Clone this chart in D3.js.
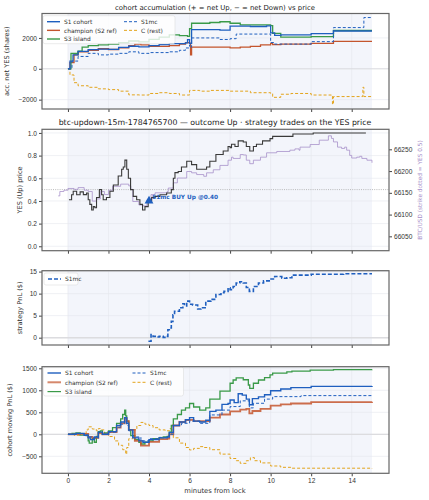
<!DOCTYPE html>
<html>
<head>
<meta charset="utf-8">
<script src="https://cdn.jsdelivr.net/npm/d3@7"></script>
<style>
  body { margin: 0; background: #fff; }
  svg { font-family: "DejaVu Sans", sans-serif; }
  .tick text { fill: #333; }
</style>
</head>
<body>
<div id="chart"></div>
<script>
// ---- data: [minutes from lock, value] ----
const minuteTicks = [0, 2, 4, 6, 8, 10, 12, 14];

// panel 1: accumulated net YES shares
const accS1 = [[0,0],[0.1,500],[0.25,900],[0.5,1130],[1,1240],[1.5,1280],[2,1260],[2.5,1390],[3,1460],[3.5,1420],[4,1500],[4.5,1560],[5,1630],[5.8,1680],[5.9,1890],[6.0,1650],[6.1,2540],[7.5,2500],[8,2760],[9,2740],[9.8,2780],[10,2330],[10.2,2170],[10.5,2200],[12,2280],[13.1,2450],[15,2450]];
const accChamp = [[0,0],[0.1,400],[0.3,900],[0.5,1100],[1,1200],[1.5,1300],[2,1250],[2.5,1350],[3,1500],[3.3,1600],[3.6,1550],[4,1450],[5,1500],[5.5,1600],[5.8,1700],[6.0,1650],[6.05,900],[6.1,1400],[8,1350],[8.5,1400],[9,1450],[9.5,1550],[10,1650],[10.1,1560],[10.5,1600],[12,1650],[13.1,1780],[15,1780]];
const accS3 = [[0,0],[0.15,1000],[0.5,1150],[0.7,1400],[1,1500],[1.5,1550],[2,1600],[2.5,1700],[3,1800],[3.5,1750],[4,1900],[4.5,2050],[5,2200],[5.5,2150],[5.9,2100],[6.0,2600],[6.1,2950],[7,3000],[7.5,3050],[8,2950],[8.5,2850],[9.5,2850],[10,2800],[10.1,2300],[10.5,2050],[12,2080],[13.1,2480],[15,2480]];
const accS1mc = [[0,0],[0.2,500],[0.5,800],[1,1000],[1.5,900],[2,950],[2.5,1000],[3,1100],[3.5,1000],[4,1050],[5,1100],[5.5,1200],[5.8,1350],[6.0,1550],[6.05,1400],[6.1,2000],[7.5,1900],[8,1950],[8.3,2250],[9.8,2250],[10,1700],[10.2,1600],[12,1760],[13.1,2670],[14.6,3320],[15,3320]];
const accRest = [[0,0],[0.1,-400],[0.3,-900],[0.5,-1100],[1,-1200],[1.5,-1300],[2,-1350],[2.5,-1450],[3,-1690],[3.5,-1700],[4,-1600],[4.5,-1550],[5,-1600],[5.5,-1700],[6,-1400],[6.5,-1450],[7,-1400],[8,-1450],[9,-1550],[10,-1600],[10.1,-1850],[10.5,-1650],[11,-1600],[12,-1700],[13,-1750],[13.05,-2300],[13.1,-1800],[14.55,-1200],[14.6,-1800],[15,-1800]];

// panel 2: YES price and BTC
const yesPrice = [[0.05,0.41],[0.18,0.455],[0.26,0.485],[0.43,0.455],[0.6,0.48],[0.76,0.456],[0.92,0.47],[1.0,0.41],[1.08,0.37],[1.17,0.32],[1.25,0.35],[1.33,0.34],[1.41,0.43],[1.55,0.5],[1.66,0.455],[1.74,0.41],[1.9,0.43],[2.07,0.485],[2.24,0.54],[2.48,0.62],[2.65,0.68],[2.73,0.7],[2.81,0.76],[2.9,0.68],[2.98,0.6],[3.09,0.5],[3.22,0.44],[3.39,0.41],[3.55,0.37],[3.68,0.32],[3.8,0.35],[3.96,0.4],[4.13,0.43],[4.29,0.44],[4.54,0.455],[4.87,0.47],[5.1,0.5],[5.2,0.6],[5.28,0.65],[5.44,0.66],[5.6,0.7],[5.86,0.75],[6.1,0.72],[6.35,0.68],[6.68,0.68],[6.84,0.7],[7.0,0.75],[7.3,0.81],[7.66,0.84],[7.9,0.88],[8.0,0.87],[8.07,0.9],[8.24,0.88],[8.4,0.93],[8.65,0.92],[8.8,0.88],[8.97,0.84],[9.15,0.88],[9.3,0.9],[9.6,0.93],[9.97,0.95],[10.1,0.97],[10.95,0.97],[11.1,0.99],[12.1,1.0],[14.7,1.0]];
const btcUsd = [[-0.48,66143],[-0.4,66153],[-0.2,66156],[0,66160],[0.3,66158],[0.5,66162],[0.8,66156],[1.0,66153],[1.2,66131],[1.4,66136],[1.6,66153],[1.8,66146],[2.0,66156],[2.2,66165],[2.6,66170],[3.0,66166],[3.1,66158],[3.2,66130],[3.5,66122],[3.7,66120],[3.9,66134],[4.1,66146],[4.3,66150],[4.9,66153],[4.95,66161],[5.2,66173],[5.4,66184],[5.7,66184],[5.86,66199],[6.1,66196],[6.35,66192],[6.7,66188],[6.84,66196],[7.17,66203],[7.5,66213],[7.9,66225],[8.07,66232],[8.15,66229],[8.5,66238],[8.65,66237],[8.8,66225],[8.97,66217],[9.15,66225],[9.5,66232],[9.8,66242],[10.3,66245],[10.95,66248],[11.2,66251],[11.4,66248],[11.45,66255],[11.95,66261],[12.4,66271],[12.85,66281],[13.0,66275],[13.1,66267],[13.3,66255],[13.5,66252],[13.65,66255],[13.75,66248],[13.9,66236],[14.0,66230],[14.25,66232],[14.4,66234],[14.5,66229],[14.75,66225],[15.0,66219]];
const strikePrice = 0.5;
const buyTrade = {t: 4.0, price: 0.40, label: "S1mc BUY Up @0.40"};

// panel 3: strategy PnL
const pnlS1mc = [[3.97,-0.8],[4.05,-0.8],[4.1,0.7],[4.2,0.3],[4.35,0.15],[4.5,0.3],[4.7,0.07],[4.85,0.3],[4.93,1.8],[5.0,2.2],[5.1,3.7],[5.18,5.2],[5.26,6.0],[5.5,6.8],[5.67,7.7],[5.75,7.2],[5.86,8.3],[6.0,7.6],[6.15,7.4],[6.4,6.5],[6.56,6.8],[6.77,7.0],[6.8,8.3],[7.05,8.7],[7.3,9.8],[7.55,10.2],[7.7,10.5],[7.9,11.3],[8.0,10.9],[8.15,11.6],[8.3,12.4],[8.48,12.7],[8.65,12.4],[8.8,11.4],[8.95,10.5],[9.15,11.6],[9.4,12.4],[9.65,12.9],[9.97,13.3],[10.2,13.9],[10.55,13.5],[10.8,13.6],[11.05,14.2],[12.0,14.4],[13.6,14.5],[15.0,14.5]];

// panel 4: cohort moving PnL
const movS1 = [[0,0],[0.4,20],[0.8,-20],[1.0,-80],[1.1,-120],[1.3,-60],[1.5,50],[1.7,0],[2.0,60],[2.4,200],[2.6,280],[2.8,380],[2.9,250],[3.0,100],[3.2,-80],[3.5,-150],[3.7,-180],[4.0,-120],[4.5,-80],[4.9,-60],[5.0,40],[5.2,200],[5.5,280],[5.8,330],[6.0,380],[6.2,300],[6.5,280],[6.8,320],[7.0,520],[7.3,550],[7.6,680],[7.9,700],[8.0,780],[8.2,720],[8.4,920],[8.6,890],[8.8,800],[8.95,670],[9.1,810],[9.4,850],[9.7,900],[10.0,990],[10.5,1030],[11.0,1060],[12.0,1090],[15.0,1100]];
const movChamp = [[0,0],[0.5,10],[1.0,-60],[1.2,-80],[1.5,30],[1.7,0],[2.0,50],[2.4,150],[2.6,250],[2.8,360],[2.9,300],[3.0,100],[3.3,-150],[3.6,-255],[4.0,-170],[4.5,-110],[4.9,-100],[5.0,0],[5.2,200],[5.5,280],[5.8,320],[6.0,330],[6.2,300],[6.5,300],[7.0,380],[7.5,450],[8.0,520],[8.5,560],[8.8,580],[8.95,475],[9.1,530],[9.5,580],[10.0,650],[10.5,680],[11.0,700],[12.0,730],[15.0,742]];
const movS3 = [[0,0],[0.2,20],[0.4,30],[0.6,-20],[0.9,-30],[1.0,-150],[1.05,-200],[1.2,-100],[1.3,-180],[1.4,-50],[1.5,60],[1.6,80],[1.7,0],[1.8,30],[2.0,80],[2.2,150],[2.4,250],[2.6,350],[2.7,450],[2.8,550],[2.85,420],[2.9,300],[3.0,100],[3.1,-30],[3.3,-120],[3.5,-180],[3.6,-220],[3.8,-180],[4.0,-150],[4.2,-100],[4.5,-80],[4.7,-60],[4.9,-50],[5.0,50],[5.1,200],[5.2,350],[5.4,450],[5.6,550],[5.8,600],[6.0,700],[6.2,620],[6.5,550],[6.8,600],[7.0,800],[7.5,980],[8.0,1160],[8.15,1234],[8.3,1280],[8.65,1240],[8.9,1120],[8.97,1045],[9.15,1160],[9.4,1234],[9.7,1290],[9.97,1350],[10.1,1390],[10.8,1420],[11.05,1435],[11.95,1458],[13.1,1470],[15.0,1473]];
const movS1mc = [[0,0],[0.4,15],[0.8,-15],[1.0,-60],[1.2,-90],[1.5,40],[1.7,0],[2.0,50],[2.4,160],[2.6,230],[2.8,300],[2.9,200],[3.0,80],[3.2,-60],[3.6,-150],[4.0,-100],[4.5,-70],[4.9,-50],[5.0,0],[5.2,200],[5.6,250],[6.0,300],[6.5,250],[7.0,440],[7.6,550],[8.0,630],[8.5,760],[8.95,600],[9.15,705],[9.7,800],[10.1,856],[11.5,879],[15.0,893]];
const movRest = [[0,0],[0.3,-20],[0.6,20],[0.9,100],[1.0,170],[1.2,120],[1.4,80],[1.5,130],[1.6,100],[1.8,20],[2.0,-50],[2.3,-150],[2.5,-250],[2.7,-350],[2.85,-450],[2.9,-300],[3.0,-100],[3.2,100],[3.4,200],[3.6,270],[3.8,230],[4.0,200],[4.2,150],[4.5,100],[4.8,80],[5.0,130],[5.1,0],[5.2,-80],[5.5,-200],[5.8,-300],[6.0,-355],[6.2,-320],[6.5,-280],[6.7,-300],[7.0,-350],[7.5,-450],[8.0,-550],[8.3,-600],[8.5,-660],[8.8,-600],[9.0,-530],[9.2,-600],[9.5,-650],[10.0,-720],[10.5,-750],[11.0,-770],[12.0,-770],[15.0,-780]];

const colS1 = "#1f5fbf", colChamp = "#c4552d", colS3 = "#3a9a48", colRest = "#e3a41c", colBtc = "#a48cc8";

// ---- layout ----
const W = 429, H = 500;
const svg = d3.select("#chart").append("svg").attr("width", W).attr("height", H);

const x = d3.scaleLinear().domain([-1.28, 15.84]).range([42, 389]);

function panel(top, bottom, yDomain, yTicks, yLabel, yFmt) {
  const y = d3.scaleLinear().domain(yDomain).range([bottom, top]);
  const g = svg.append("g");
  g.append("rect").attr("x", 42).attr("y", top).attr("width", 347).attr("height", bottom - top).attr("fill", "#fff");
  // session span shading
  g.append("rect").attr("x", x(0)).attr("y", top).attr("width", x(15) - x(0)).attr("height", bottom - top).attr("fill", "#f3f5fb");
  // grid
  g.selectAll(".gx").data(minuteTicks).join("line")
    .attr("x1", d => x(d)).attr("x2", d => x(d)).attr("y1", top).attr("y2", bottom)
    .attr("stroke", "#e4e6ec").attr("stroke-width", 0.6);
  g.selectAll(".gy").data(yTicks).join("line")
    .attr("x1", 42).attr("x2", 389).attr("y1", d => y(d)).attr("y2", d => y(d))
    .attr("stroke", "#e4e6ec").attr("stroke-width", 0.6);
  const yAxis = g.append("g").attr("transform", "translate(42,0)")
    .call(d3.axisLeft(y).tickValues(yTicks).tickSize(3).tickPadding(2).tickFormat(yFmt || d3.format("d")));
  yAxis.select(".domain").remove();
  yAxis.selectAll("line").attr("stroke", "#444");
  yAxis.selectAll("text").style("font-size", "6.6px");
  const xAxis = g.append("g").attr("transform", `translate(0,${bottom})`)
    .call(d3.axisBottom(x).tickValues(minuteTicks).tickSize(3).tickFormat(""));
  xAxis.select(".domain").remove();
  xAxis.selectAll("line").attr("stroke", "#444");
  svg.append("text").attr("transform", `translate(${yLabel.x},${(top + bottom) / 2}) rotate(-90)`)
    .attr("text-anchor", "middle").style("font-size", "6.6px").attr("fill", "#333").text(yLabel.text);
  return {g, y, top, bottom, xAxis};
}

function frame(p) {
  svg.append("rect").attr("x", 42).attr("y", p.top).attr("width", 347).attr("height", p.bottom - p.top)
    .attr("fill", "none").attr("stroke", "#666").attr("stroke-width", 1.2);
}

function stepLine(p, data, color, width, dash, opacity) {
  const line = d3.line().x(d => x(d[0])).y(d => p.y(d[1])).curve(d3.curveStepAfter);
  p.g.append("path").datum(data).attr("d", line).attr("fill", "none")
    .attr("stroke", color).attr("stroke-width", width).attr("stroke-dasharray", dash || null)
    .attr("stroke-opacity", opacity || 1);
}

function legend(p, items, x0, y0, w, h, colW, rowH, lineLen) {
  const lg = p.g.append("g");
  lg.append("rect").attr("x", x0).attr("y", y0).attr("width", w).attr("height", h).attr("rx", 2)
    .attr("fill", "#fff").attr("fill-opacity", 0.8).attr("stroke", "#ddd").attr("stroke-width", 0.6);
  items.forEach((it, i) => {
    const cx = x0 + 4 + it.col * colW, cy = y0 + 6 + it.row * rowH;
    lg.append("line").attr("x1", cx).attr("x2", cx + lineLen).attr("y1", cy).attr("y2", cy)
      .attr("stroke", it.color).attr("stroke-width", it.w).attr("stroke-dasharray", it.dash || null)
      .attr("stroke-opacity", it.op || 1);
    lg.append("text").attr("x", cx + lineLen + 4).attr("y", cy + 2.2).style("font-size", "5.9px").attr("fill", "#333").text(it.name);
  });
}

// ---- panel 1 ----
const p1 = panel(13.5, 109, [-2606, 3583], [-2000, 0, 2000], {x: 9, text: "acc. net YES (shares)"});
p1.g.append("line").attr("x1", 42).attr("x2", 389).attr("y1", p1.y(0)).attr("y2", p1.y(0)).attr("stroke", "#d8d8dc").attr("stroke-width", 0.8);
stepLine(p1, accRest, colRest, 1, "3,2");
stepLine(p1, accChamp, colChamp, 1.3);
stepLine(p1, accS3, colS3, 1.3);
stepLine(p1, accS1, colS1, 1.3);
stepLine(p1, accS1mc, colS1, 1, "3,2");
legend(p1, [
  {name: "S1 cohort", color: colS1, w: 1.4, col: 0, row: 0},
  {name: "champion (S2 ref)", color: colChamp, w: 1.4, col: 0, row: 1},
  {name: "S3 island", color: colS3, w: 1.4, col: 0, row: 2},
  {name: "S1mc", color: colS1, w: 1, dash: "3,2", col: 1, row: 0},
  {name: "C (rest)", color: colRest, w: 1, dash: "3,2", col: 1, row: 1}
], 43, 15.7, 132, 28, 77, 8.65, 13);
frame(p1);
svg.append("text").attr("x", 215).attr("y", 10).attr("text-anchor", "middle").style("font-size", "6.9px").attr("fill", "#222")
  .text("cohort accumulation (+ = net Up, \u2212 = net Down) vs price");

// ---- panel 2 ----
const p2 = panel(129.3, 250.7, [-0.039, 1.032], [0, 0.2, 0.4, 0.6, 0.8, 1.0], {x: 22, text: "YES (Up) price"}, d3.format(".1f"));
const yBtc = d3.scaleLinear().domain([66017, 66296]).range([250.7, 129.3]);
const rAxis = p2.g.append("g").attr("transform", "translate(389,0)")
  .call(d3.axisRight(yBtc).tickValues([66050, 66100, 66150, 66200, 66250]).tickSize(3).tickPadding(2).tickFormat(d3.format("d")));
rAxis.select(".domain").remove();
rAxis.selectAll("line").attr("stroke", "#444");
rAxis.selectAll("text").style("font-size", "6.6px").attr("fill", colBtc);
svg.append("text").attr("transform", `translate(422,${(129.3 + 250.7) / 2}) rotate(-90)`).attr("text-anchor", "middle")
  .style("font-size", "5.8px").attr("fill", colBtc).text("BTC/USD (strike dotted = YES 0.5)");
p2.g.append("line").attr("x1", 42).attr("x2", 389).attr("y1", p2.y(strikePrice)).attr("y2", p2.y(strikePrice))
  .attr("stroke", "#aaa").attr("stroke-width", 0.8).attr("stroke-dasharray", "1,1.2");
const btcLine = d3.line().x(d => x(d[0])).y(d => yBtc(d[1])).curve(d3.curveStepAfter);
p2.g.append("path").datum(btcUsd).attr("d", btcLine).attr("fill", "none").attr("stroke", colBtc).attr("stroke-width", 0.9).attr("stroke-opacity", 0.85);
stepLine(p2, yesPrice, "#3a3a3a", 1.1);
p2.g.append("path").attr("d", d3.symbol(d3.symbolTriangle, 34)())
  .attr("transform", `translate(${x(buyTrade.t)},${p2.y(buyTrade.price)})`).attr("fill", colS1);
p2.g.append("text").attr("x", x(buyTrade.t) + 3).attr("y", p2.y(buyTrade.price) - 1.5).style("font-size", "5.8px")
  .style("font-weight", "bold").attr("fill", colS1).text(buyTrade.label);
frame(p2);
svg.append("text").attr("x", 215).attr("y", 124.5).attr("text-anchor", "middle").style("font-size", "7.8px").attr("fill", "#222")
  .text("btc-updown-15m-1784765700 \u2014 outcome Up \u00b7 strategy trades on the YES price");

// ---- panel 3 ----
const p3 = panel(270.7, 345, [-1.66, 15.2], [0, 5, 10, 15], {x: 22, text: "strategy PnL ($)"});
p3.g.append("line").attr("x1", 42).attr("x2", 389).attr("y1", p3.y(0)).attr("y2", p3.y(0)).attr("stroke", "#dcdcdf").attr("stroke-width", 1.6);
stepLine(p3, pnlS1mc, colS1, 1.6, "4,2");
legend(p3, [{name: "S1mc", color: colS1, w: 1.6, dash: "4,2", col: 0, row: 0}], 44, 273, 34, 12, 0, 0, 13);
frame(p3);

// ---- panel 4 ----
const p4 = panel(366.7, 473.3, [-886, 1536], [-500, 0, 500, 1000, 1500], {x: 12, text: "cohort moving PnL ($)"});
p4.g.append("line").attr("x1", 42).attr("x2", 389).attr("y1", p4.y(0)).attr("y2", p4.y(0)).attr("stroke", "#dcdcdf").attr("stroke-width", 1.2);
stepLine(p4, movRest, colRest, 1, "3,2");
stepLine(p4, movS3, colS3, 1.3);
stepLine(p4, movChamp, colChamp, 1.8, null, 0.85);
stepLine(p4, movS1, colS1, 1.4);
stepLine(p4, movS1mc, colS1, 1, "3,2");
legend(p4, [
  {name: "S1 cohort", color: colS1, w: 1.4, col: 0, row: 0},
  {name: "champion (S2 ref)", color: colChamp, w: 2, op: 0.7, col: 0, row: 1},
  {name: "S3 island", color: colS3, w: 1.2, col: 0, row: 2},
  {name: "S1mc", color: colS1, w: 1, dash: "3,2", col: 1, row: 0},
  {name: "C (rest)", color: colRest, w: 1, dash: "3,2", col: 1, row: 1}
], 43.5, 367, 140, 29, 85, 9.3, 13.5);
frame(p4);
p4.xAxis.call(d3.axisBottom(x).tickValues(minuteTicks).tickSize(3).tickPadding(2).tickFormat(d3.format("d")));
p4.xAxis.select(".domain").remove();
p4.xAxis.selectAll("line").attr("stroke", "#444");
p4.xAxis.selectAll("text").style("font-size", "6.6px");
svg.append("text").attr("x", 215).attr("y", 493).attr("text-anchor", "middle").style("font-size", "6.8px").attr("fill", "#333").text("minutes from lock");
</script>
</body>
</html>
